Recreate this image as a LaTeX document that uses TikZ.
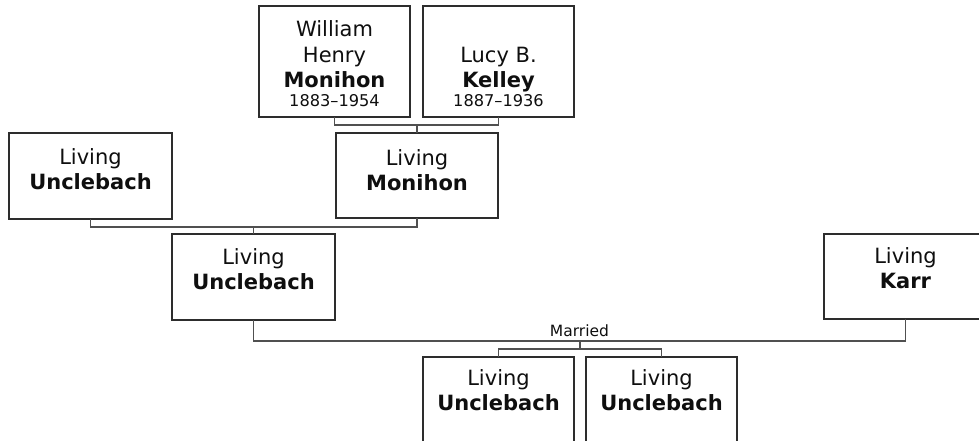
\documentclass[tikz,border=0pt]{standalone}
\usepackage{fontspec}
\setmainfont{DejaVu Sans}
\usetikzlibrary{calc}
\definecolor{boxc}{RGB}{45,45,45}
\definecolor{linec}{RGB}{80,80,80}
\definecolor{txtc}{RGB}{15,15,15}
\tikzset{
  box/.style={draw=boxc, line width=1.2pt, anchor=north west, inner sep=0pt, outer sep=0pt},
  txt/.style={anchor=north, align=center, inner sep=0pt, text=txtc, font=\fontsize{21}{25}\selectfont},
  small/.style={inner sep=0pt, text=txtc, font=\fontsize{15.5}{19}\selectfont},
  conn/.style={draw=linec, line width=1.5pt},
}
\newcommand{\yrs}[1]{{\fontsize{16.2}{19}\selectfont #1}}
\begin{document}
\begin{tikzpicture}[x=1pt,y=-1pt]
\useasboundingbox (0,0) rectangle (979,441);
\clip (0,0) rectangle (979,441);
\fill[white] (0,0) rectangle (979,441);
% boxes
\node[box, minimum width=151pt, minimum height=111pt] (wh) at (259,6) {};
\node[box, minimum width=151pt, minimum height=111pt] (lk) at (423,6) {};
\node[box, minimum width=162pt, minimum height=85pt] (mon) at (336,133) {};
\node[box, minimum width=163pt, minimum height=86pt] (uL) at (9,133) {};
\node[box, minimum width=163pt, minimum height=86pt] (uM) at (172,234) {};
\node[box, minimum width=163pt, minimum height=85pt] (karr) at (824,234) {};
\node[box, minimum width=151pt, minimum height=86pt] (c1) at (423,357) {};
\node[box, minimum width=151pt, minimum height=86pt] (c2) at (586,357) {};
% texts
\node[txt] (wh-t) at ($(wh.north)+(0,14)$) {William\\[1pt]Henry\\\textbf{Monihon}\\[-6pt]\yrs{1883–1954}};
\node[txt] (lk-t) at ($(lk.north)+(0,40.7)$) {Lucy B.\\\textbf{Kelley}\\[-6pt]\yrs{1887–1936}};
\node[txt] (mon-t) at ($(mon.north)+(0,16)$) {Living\\\textbf{Monihon}};
\node[txt] (uL-t) at ($(uL.north)+(0,15.3)$) {Living\\\textbf{Unclebach}};
\node[txt] (uM-t) at ($(uM.north)+(0,14.3)$) {Living\\\textbf{Unclebach}};
\node[txt] (karr-t) at ($(karr.north)+(0,13.3)$) {Living\\\textbf{Karr}};
\node[txt] (c1-t) at ($(c1.north)+(0,12)$) {Living\\\textbf{Unclebach}};
\node[txt] (c2-t) at ($(c2.north)+(0,12)$) {Living\\\textbf{Unclebach}};
% connectors
\draw[conn] (wh.south) -- ++(0,8) -| (lk.south);
\draw[conn] (mon.north) -- ++(0,-8);
\draw[conn] (uL.south) -- ++(0,8) -| (mon.south);
\draw[conn] (uM.north) -- ++(0,-7);
\draw[conn] (uM.south) -- ++(0,21) -| (karr.south);
\node[small, anchor=base] (married) at ($(uM.south)!0.5!(karr.south)+(0,17)$) {Married};
\draw[conn] (c1.north) -- ++(0,-8) -| (c2.north);
\draw[conn] ($(c1.north)!0.5!(c2.north)+(0,-8)$) -- ++(0,-8);
\end{tikzpicture}
\end{document}
